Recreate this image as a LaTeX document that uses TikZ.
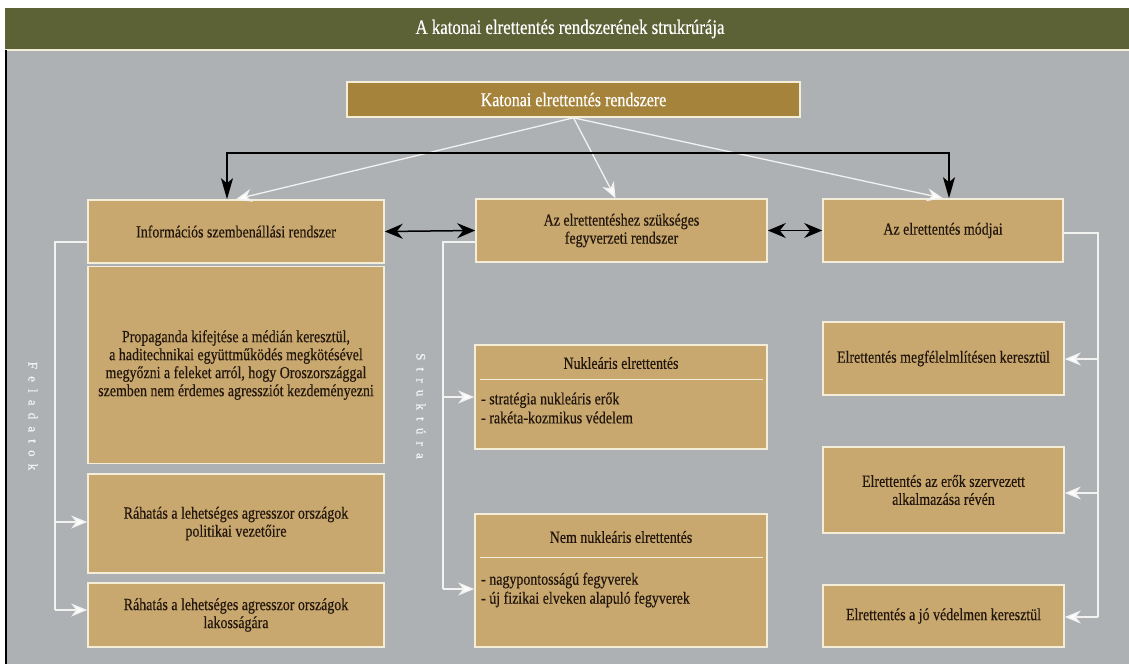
\documentclass[tikz,border=0pt]{standalone}
\usepackage{fontspec}
\setmainfont[FakeStretch=0.82,FakeBold=0.4]{Liberation Serif}
\newfontfamily\spacedfont[LetterSpace=55,FakeBold=1]{Liberation Serif}
\usetikzlibrary{arrows.meta}
\definecolor{bggray}{HTML}{ADB1B4}
\definecolor{bannerolive}{HTML}{5C6236}
\definecolor{boxtan}{HTML}{C8A86F}
\definecolor{boxgold}{HTML}{A6833A}
\definecolor{boxcream}{HTML}{F4EDD8}
\definecolor{inkbrown}{HTML}{22160C}
\definecolor{paleline}{HTML}{F2F2F0}
\begin{document}
\begin{tikzpicture}[x=1pt,y=-1pt,
  box/.style={draw=boxcream, line width=1.6pt, fill=boxtan, text=inkbrown, inner sep=0pt,
    align=center, font=\fontsize{17}{18}\selectfont},
  plain/.style={text=inkbrown, inner sep=0pt, font=\fontsize{17}{19}\selectfont},
  blk/.style={draw=black, line width=1.5pt},
  dbl/.style={blk, {Stealth[length=18pt,width=15pt,inset=6pt]}-{Stealth[length=18pt,width=15pt,inset=6pt]}},
  wline/.style={draw=paleline, line width=1.3pt},
  warr/.style={wline, -{Stealth[length=16pt,width=13pt,inset=5pt,fill=white]}},
  vlabel/.style={text=paleline, inner sep=0pt, rotate=-90, font=\spacedfont\fontsize{13}{13}\selectfont}
]
\useasboundingbox (0,0) rectangle (1129,664);
% background
\fill[white] (0,0) rectangle (1129,664);
\fill[bggray] (5,50) rectangle (1129,664);
\fill[bannerolive] (5,8) rectangle (1129,50);
\draw[boxcream, line width=1.2pt] (5,50) -- (1129,50);
\draw[black, line width=2pt] (6,50) -- (6,664);
\node[text=white, inner sep=0pt, font=\fontsize{20.5}{22}\selectfont] (title) at (570,29) {A katonai elrettentés rendszerének strukrúrája};

% boxes
\node[box, fill=boxgold, text=white, minimum width=453pt, minimum height=35pt, font=\fontsize{19.5}{21}\selectfont] (top) at (573.5,99.5) {Katonai elrettentés rendszere};

\node[box, minimum width=296pt, minimum height=63pt] (info) at (236,231.5) {Információs szembenállási rendszer};
\node[box, minimum width=296pt, minimum height=197pt] (prop) at (236,365) {Propaganda kifejtése a médián keresztül,\\ a haditechnikai együttműködés megkötésével\\ megyőzni a feleket arról, hogy Oroszországgal\\ szemben nem érdemes agressziót kezdeményezni};
\node[box, minimum width=296pt, minimum height=99pt] (r1) at (236,523.5) {Ráhatás a lehetséges agresszor országok\\ politikai vezetőire};
\node[box, minimum width=296pt, minimum height=64pt] (r2) at (236,615) {Ráhatás a lehetséges agresszor országok\\ lakosságára};

\node[box, minimum width=291pt, minimum height=63pt] (mid) at (621.5,230.5) {Az elrettentéshez szükséges\\ fegyverzeti rendszer};
\node[box, minimum width=292pt, minimum height=104pt] (nuk) at (621,397) {};
\node[box, minimum width=292pt, minimum height=133pt] (nem) at (621,580.5) {};

\node[box, minimum width=240pt, minimum height=63pt] (mod) at (943,230.5) {Az elrettentés módjai};
\node[box, minimum width=241pt, minimum height=73pt] (e1) at (943.5,358.5) {Elrettentés megfélelmlítésen keresztül};
\node[box, minimum width=241pt, minimum height=86pt] (e2) at (943.5,490) {Elrettentés az erők szervezett\\ alkalmazása révén};
\node[box, minimum width=241pt, minimum height=62pt] (e3) at (943.5,616) {Elrettentés a jó védelmen keresztül};

% inner texts of the two structured boxes
\node[plain] (nukt) at (621,363) {Nukleáris elrettentés};
\draw[boxcream, line width=0.9pt] (480,379) -- (763,379);
\node[plain, anchor=west, align=left] (nuki) at (481,408) {- stratégia nukleáris erők\\ - rakéta-kozmikus védelem};
\node[plain] (nemt) at (621,537) {Nem nukleáris elrettentés};
\draw[boxcream, line width=0.9pt] (480,557) -- (763,557);
\node[plain, anchor=west, align=left] (nemi) at (481,590) {- nagypontosságú fegyverek\\ - új fizikai elveken alapuló fegyverek};

% vertical labels
\node[vlabel] (fel) at (33,416) {Feladatok};
\node[vlabel] (str) at (421,406) {Struktúra};

% white fan arrows from the top box
\draw[warr] (top.south) -- (info.north);
\draw[warr] (top.south) -- ([xshift=-6pt]mid.north);
\draw[warr] (top.south) -- (mod.north);

% black connector above the row
\coordinate (bl) at (227,153);
\coordinate (br) at (949,153);
\draw[blk, {Stealth[length=21pt,width=12pt,inset=5pt]}-{Stealth[length=21pt,width=12pt,inset=5pt]}] (info.north -| bl) -- (bl) -- (br) -- (mod.north -| br);

% double arrows between the row boxes
\draw[dbl] (info.east) -- (mid.west);
\draw[dbl] (mid.east) -- (mod.west);

% Feladatok bracket
\coordinate (f1) at (55,242);
\coordinate (f2) at (55,522);
\coordinate (f3) at (55,610);
\draw[wline] (info.west |- f1) -- (f1) -- (f3);
\draw[warr] (f2) -- (r1.west |- f2);
\draw[warr] (f3) -- (r2.west |- f3);

% Struktura bracket
\coordinate (s1) at (443,242);
\coordinate (s2) at (443,397);
\coordinate (s3) at (443,589);
\draw[wline] (mid.west |- s1) -- (s1) -- (s3);
\draw[warr] (s2) -- (nuk.west |- s2);
\draw[warr] (s3) -- (nem.west |- s3);

% right bracket
\coordinate (m1) at (1098,233);
\coordinate (m2) at (1098,359);
\coordinate (m3) at (1098,493);
\coordinate (m4) at (1098,617);
\draw[wline] (mod.east |- m1) -- (m1) -- (m4);
\draw[warr] (m2) -- (e1.east |- m2);
\draw[warr] (m3) -- (e2.east |- m3);
\draw[warr] (m4) -- (e3.east |- m4);
\end{tikzpicture}
\end{document}
